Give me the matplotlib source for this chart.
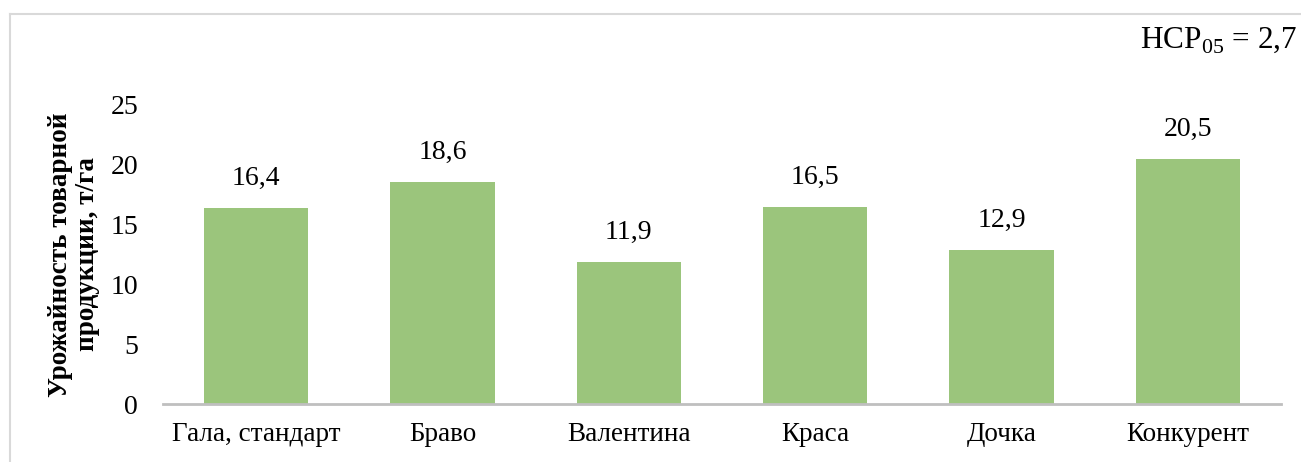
import matplotlib.pyplot as plt
from matplotlib.lines import Line2D

plt.rcParams['font.family'] = ['Liberation Serif', 'DejaVu Serif']
plt.rcParams['mathtext.fontset'] = 'custom'
plt.rcParams['mathtext.rm'] = 'Liberation Serif'

varieties = ['Гала, стандарт', 'Браво', 'Валентина', 'Краса', 'Дочка', 'Конкурент']
yields = [16.4, 18.6, 11.9, 16.5, 12.9, 20.5]
y_ticks = [0, 5, 10, 15, 20, 25]
lsd_label = 'НСР$_{05}$ = 2,7'

fig = plt.figure(figsize=(13.01, 4.62), dpi=100)
ax = fig.add_axes([163 / 1301, 1 - 404 / 462, (1281 - 163) / 1301, (404 - 105) / 462])

x = range(len(varieties))
bars = ax.bar(x, yields, width=0.56, color='#9bc57c', zorder=2)

for rect, val in zip(bars, yields):
    ax.annotate(f'{val:.1f}'.replace('.', ','),
                (rect.get_x() + rect.get_width() / 2, val),
                xytext=(0, 12), textcoords='offset points',
                ha='center', va='bottom', fontsize=20)

ax.set_xlim(-0.5, len(varieties) - 0.5)
ax.set_ylim(0, 25)
ax.set_yticks(y_ticks)
ax.set_yticklabels([str(t) for t in y_ticks], fontsize=20)
ax.set_xticks(list(x))
ax.set_xticklabels(varieties, fontsize=19.5)
ax.tick_params(length=0)
ax.tick_params(axis='y', pad=18)
ax.tick_params(axis='x', pad=13)

for side in ['top', 'right', 'left']:
    ax.spines[side].set_visible(False)
ax.spines['bottom'].set_color('#bfbfbf')
ax.spines['bottom'].set_linewidth(2)

ax.set_ylabel('Урожайность товарной\nпродукции, т/га', fontsize=19.5,
              fontweight='bold', linespacing=1.15)
ax.yaxis.set_label_coords(-0.056, 0.5)

fig.text(1297 / 1301, 1 - 48 / 462, lsd_label, fontsize=22.5, ha='right', va='baseline')

# chart area frame (top and left edges)
fig.add_artist(Line2D([10 / 1301, 1], [1 - 14 / 462, 1 - 14 / 462], color='#d9d9d9', lw=1.5))
fig.add_artist(Line2D([10 / 1301, 10 / 1301], [0, 1 - 14 / 462], color='#d9d9d9', lw=1.5))

fig.savefig('out.png', dpi=100)
